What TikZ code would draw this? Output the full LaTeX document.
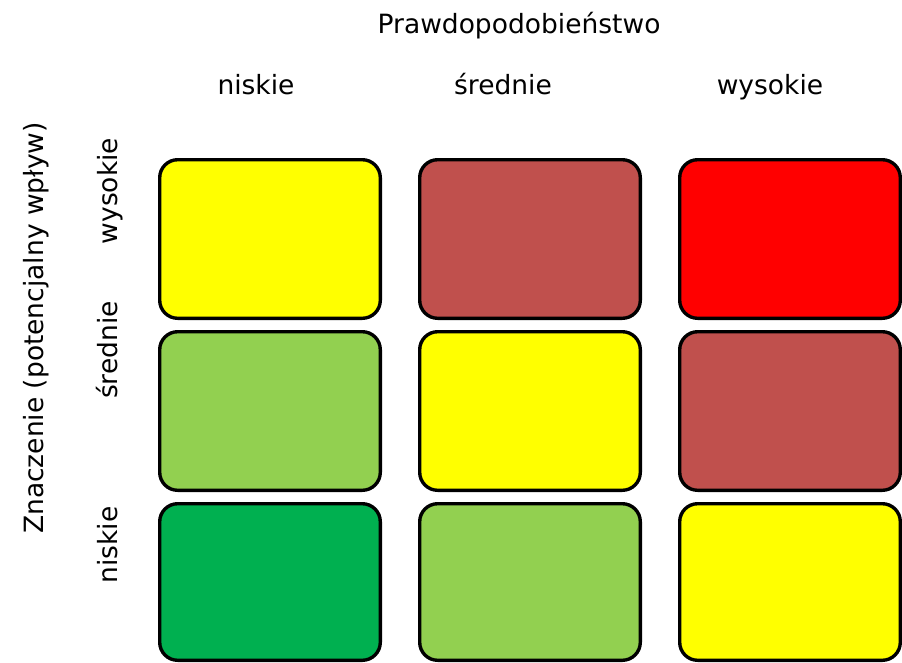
\documentclass[tikz,border=0pt]{standalone}
\usepackage{fontspec}
\setmainfont{DejaVu Sans}
\definecolor{cyel}{HTML}{FFFF00}
\definecolor{cbrn}{HTML}{C0504D}
\definecolor{cred}{HTML}{FF0000}
\definecolor{clgr}{HTML}{92D050}
\definecolor{cdgr}{HTML}{00B050}
\tikzset{
  cell/.style={draw=black, line width=3.4pt, rounded corners=18pt, minimum width=220.6pt, minimum height=158.6pt, inner sep=0pt},
  lbl/.style={font=\fontsize{26.5}{31}\selectfont, inner sep=0pt, anchor=base},
  vlbl/.style={lbl, rotate=90}
}
\begin{document}
\begin{tikzpicture}[x=1pt,y=-1pt]
\useasboundingbox (0,0) rectangle (902,662);
% title
\node[lbl] (title) at (519,33) {Prawdopodobieństwo};
\node[lbl] (cl1) at (256,94) {niskie};
\node[lbl] (cl2) at (503,94) {średnie};
\node[lbl] (cl3) at (770,94) {wysokie};
% vertical
\node[vlbl] (axis) at (43,328) {Znaczenie (potencjalny wpływ)};
\node[vlbl] (rl1) at (117,191) {wysokie};
\node[vlbl] (rl2) at (117,350) {średnie};
\node[vlbl] (rl3) at (117,545) {niskie};
% cells
\node[cell, fill=cyel] (c11) at (270,239) {};
\node[cell, fill=cbrn] (c12) at (530,239) {};
\node[cell, fill=cred] (c13) at (790,239) {};
\node[cell, fill=clgr] (c21) at (270,411) {};
\node[cell, fill=cyel] (c22) at (530,411) {};
\node[cell, fill=cbrn] (c23) at (790,411) {};
\node[cell, fill=cdgr, minimum height=156.6pt] (c31) at (270,582) {};
\node[cell, fill=clgr, minimum height=156.6pt] (c32) at (530,582) {};
\node[cell, fill=cyel, minimum height=156.6pt] (c33) at (790,582) {};
\end{tikzpicture}
\end{document}
